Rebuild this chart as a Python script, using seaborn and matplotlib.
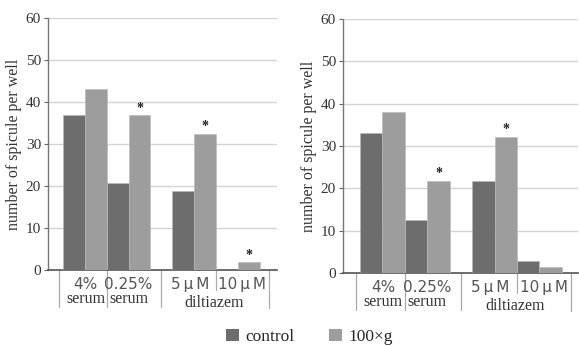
import matplotlib
matplotlib.use("Agg")
import matplotlib.pyplot as plt
import matplotlib.transforms as mtransforms
from matplotlib.patches import Patch
import seaborn as sns
import pandas as pd

# ---- data ----
positions = [0.0, 1.0, 2.5, 3.5]
conditions_top = ["4%", "0.25%", "5\u2009μ\u2009M", "10\u2009μ\u2009M"]
series = ["control", "100×g"]
left_control = [37, 20.8, 18.9, 0]
left_100g = [43, 36.8, 32.4, 1.8]
left_stars = [False, True, True, True]
right_control = [33, 12.6, 21.7, 2.8]
right_100g = [38, 21.8, 32.1, 1.4]
right_stars = [False, True, True, False]
yticks = [0, 10, 20, 30, 40, 50, 60]
ylabel = "number of spicule per well"

colors = {"control": "#6d6d6d", "100×g": "#9d9d9d"}
serif = ["Liberation Serif", "DejaVu Serif"]
sans = ["DejaVu Sans"]

sns.set_style("white")

fig = plt.figure(figsize=(5.79, 3.46), dpi=100)
axL = fig.add_axes([0.0829, 0.2197, 0.3955, 0.728])
axR = fig.add_axes([0.5924, 0.211, 0.406, 0.734])


def draw(ax, ctrl, g100, stars, xlim):
    df = pd.DataFrame({
        "pos": positions * 2,
        "series": [series[0]] * 4 + [series[1]] * 4,
        "value": list(ctrl) + list(g100),
    })
    sns.barplot(data=df, x="pos", y="value", hue="series", native_scale=True,
                palette=colors, width=1.0, gap=0, ax=ax, legend=False,
                edgecolor="#b8b8b8", linewidth=0.4, zorder=3, errorbar=None)
    ax.set_ylim(0, 60)
    ax.set_xlim(*xlim)
    ax.set_yticks(yticks)
    ax.set_yticklabels([str(t) for t in yticks], fontfamily=serif, fontsize=11,
                       color="#333333")
    ax.tick_params(axis="y", length=3, width=0.8, color="#666666", pad=2, left=True)
    ax.set_xticks([])
    ax.set_xlabel("")
    ax.set_ylabel(ylabel, fontfamily=serif, fontsize=11.5, color="#333333", labelpad=3)
    ax.yaxis.grid(True, color="#d4d4d4", linewidth=1.0, zorder=0)
    ax.set_axisbelow(True)
    for s in ["top", "right"]:
        ax.spines[s].set_visible(False)
    ax.spines["left"].set_color("#777777")
    ax.spines["bottom"].set_color("#555555")
    ax.spines["left"].set_linewidth(1.0)
    ax.spines["bottom"].set_linewidth(1.2)

    # significance stars
    for p, v, s in zip(positions, g100, stars):
        if s:
            ax.annotate("*", (p + 0.25, v), xytext=(0, 0.5), textcoords="offset points",
                        ha="center", va="bottom", fontsize=10, fontfamily=serif,
                        color="#222222", fontweight="bold")

    trans = mtransforms.blended_transform_factory(ax.transData, ax.transAxes)
    # divider lines below axis
    for xd, y1 in [(-0.6, -0.145), (0.5, -0.145), (1.75, -0.145), (3.0, -0.08), (4.2, -0.15)]:
        ax.plot([xd, xd], [0, y1], transform=trans, color="#aaaaaa", lw=0.9,
                clip_on=False)
    # category labels
    for xd, lab in zip([0.02, 1.0, 2.4, 3.6], conditions_top):
        ax.text(xd, -0.075, lab, transform=trans, ha="center", va="baseline",
                fontfamily=sans, fontsize=11, color="#555555")
    for xd, yd, lab in [(0.02, -0.131, "serum"), (1.0, -0.131, "serum"),
                        (2.95, -0.147, "diltiazem")]:
        ax.text(xd, yd, lab, transform=trans, ha="center", va="baseline",
                fontfamily=serif, fontsize=11.5, color="#333333")


draw(axL, left_control, left_100g, left_stars, (-0.84, 4.39))
draw(axR, right_control, right_100g, right_stars, (-0.88, 4.36))

handles = [Patch(facecolor=colors[s], edgecolor="none", label=s) for s in series]
fig.legend(handles=handles, loc="center", bbox_to_anchor=(0.535, 0.025), ncol=2,
           frameon=False, prop={"family": serif, "size": 12.5}, handlelength=0.7,
           handleheight=0.7, handletextpad=0.4, columnspacing=2.0)

fig.savefig("out.png", dpi=100)
